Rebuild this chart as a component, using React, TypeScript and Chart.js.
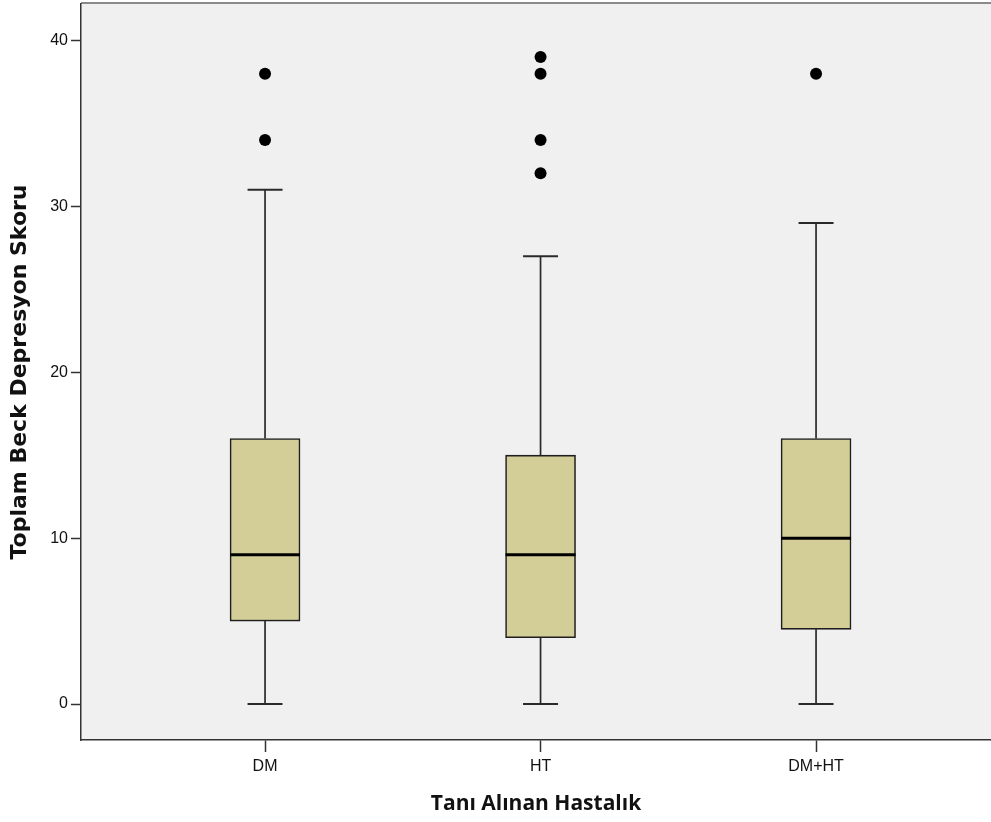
import React, { useEffect, useRef } from "react";
import { Chart, registerables } from "chart.js";

Chart.register(...registerables);

const categories = ["DM", "HT", "DM+HT"];
const whiskerLow = [0, 0, 0];
const q1 = [5, 4, 4.5];
const medians = [9, 9, 10];
const q3 = [16, 15, 16];
const whiskerHigh = [31, 27, 29];
const outliers = [[34, 38], [32, 34, 38, 39], [38]];
const yTicks = [0, 10, 20, 30, 40];

const FONT = "'Liberation Sans', Arial, sans-serif";
const BOX_HALF = 0.127;
const CAP_HALF = 0.0635;

const plotBg = {
  id: "plotBg",
  beforeDraw(chart: any) {
    const { ctx, chartArea } = chart;
    ctx.save();
    ctx.fillStyle = "#f0f0f0";
    ctx.fillRect(chartArea.left, chartArea.top, chartArea.right - chartArea.left, chartArea.bottom - chartArea.top);
    ctx.strokeStyle = "#8a8a8a";
    ctx.lineWidth = 2;
    ctx.beginPath();
    ctx.moveTo(chartArea.left, chartArea.top - 1);
    ctx.lineTo(chartArea.right, chartArea.top - 1);
    ctx.stroke();
    ctx.restore();
  },
};

const zeroPad = (s: any) => {
  s.paddingTop = 0;
  s.paddingBottom = 0;
  s.paddingLeft = 0;
  s.paddingRight = 0;
};

export default function App() {
  const ref = useRef<HTMLCanvasElement | null>(null);
  useEffect(() => {
    if (!ref.current) return;
    const pos = categories.map((_, i) => i + 1);
    const boxData = pos.map((x, i) => ({ x, y: [q1[i], q3[i]] }));
    const medianData: any[] = [];
    const whiskerData: any[] = [];
    const capData: any[] = [];
    pos.forEach((x, i) => {
      medianData.push({ x: x - BOX_HALF, y: medians[i] }, { x: x + BOX_HALF, y: medians[i] }, { x: x + 0.5, y: null });
      whiskerData.push({ x, y: q3[i] }, { x, y: whiskerHigh[i] }, { x: x + 0.01, y: null });
      whiskerData.push({ x, y: whiskerLow[i] }, { x, y: q1[i] }, { x: x + 0.01, y: null });
      capData.push({ x: x - CAP_HALF, y: whiskerHigh[i] }, { x: x + CAP_HALF, y: whiskerHigh[i] }, { x: x + 0.5, y: null });
      capData.push({ x: x - CAP_HALF, y: whiskerLow[i] }, { x: x + CAP_HALF, y: whiskerLow[i] }, { x: x + 0.5, y: null });
    });
    const outlierData: any[] = [];
    outliers.forEach((arr, i) => arr.forEach((v) => outlierData.push({ x: pos[i], y: v })));

    const chart = new Chart(ref.current, {
      type: "bar",
      data: {
        datasets: [
          {
            type: "line",
            data: whiskerData,
            borderColor: "#2a2a2a",
            borderWidth: 1.7,
            pointRadius: 0,
            spanGaps: false,
            clip: false,
            order: 3,
          } as any,
          {
            type: "line",
            data: capData,
            borderColor: "#2a2a2a",
            borderWidth: 2,
            pointRadius: 0,
            spanGaps: false,
            order: 3,
          } as any,
          {
            type: "bar",
            data: boxData,
            backgroundColor: "#d3ce97",
            borderColor: "#1e1e1e",
            borderWidth: 1.6,
            borderSkipped: false,
            barThickness: 70,
            order: 2,
          } as any,
          {
            type: "line",
            data: medianData,
            borderColor: "#000000",
            borderWidth: 3,
            pointRadius: 0,
            spanGaps: false,
            order: 1,
          } as any,
          {
            type: "line",
            data: outlierData,
            showLine: false,
            pointRadius: 6,
            pointBackgroundColor: "#000000",
            pointBorderColor: "#000000",
            pointBorderWidth: 0,
            order: 0,
          } as any,
        ],
      },
      options: {
        animation: false,
        responsive: false,
        events: [],
        layout: { autoPadding: false, padding: { top: 4, right: 0, left: 0, bottom: 0 } },
        plugins: { legend: { display: false }, tooltip: { enabled: false } },
        scales: {
          x: {
            type: "linear",
            min: 0.332,
            max: 3.635,
            offset: false,
            afterFit: (s: any) => {
              s.height = 82;
              zeroPad(s);
            },
            afterBuildTicks: (s: any) => {
              s.ticks = pos.map((v) => ({ value: v }));
            },
            ticks: {
              callback: (v: any) => categories[Math.round(Number(v)) - 1] ?? "",
              color: "#111111",
              font: { family: FONT, size: 16 },
              padding: 5,
              maxRotation: 0,
              autoSkip: false,
            },
            grid: { offset: false, drawOnChartArea: false, tickLength: 12, tickColor: "#333333", tickWidth: 1.5 },
            border: { display: true, color: "#333333", width: 1.5 },
            title: {
              display: true,
              text: "Tanı Alınan Hastalık",
              color: "#111111",
              font: { family: "'Open Sans', 'Noto Sans', sans-serif", size: 21, weight: "bold" },
              padding: { top: 0, bottom: 5 },
            },
          },
          y: {
            type: "linear",
            min: -2.17,
            max: 42.2,
            afterFit: (s: any) => {
              s.width = 81;
              zeroPad(s);
            },
            afterBuildTicks: (s: any) => {
              s.ticks = yTicks.map((v) => ({ value: v }));
            },
            ticks: {
              color: "#111111",
              font: { family: FONT, size: 16 },
              padding: 3,
            },
            grid: { drawOnChartArea: false, tickLength: 10, tickColor: "#333333", tickWidth: 1.5 },
            border: { display: true, color: "#333333", width: 1.5 },
            title: {
              display: true,
              text: "Toplam Beck Depresyon Skoru",
              color: "#111111",
              font: { family: "'DejaVu Sans', sans-serif", size: 22, weight: "bold" },
              padding: { top: 7, bottom: 0 },
            },
          },
        },
      },
      plugins: [plotBg],
    });
    return () => chart.destroy();
  }, []);
  return (
    <div style={{ position: "absolute", left: 0, top: 0, width: 991, height: 822, background: "#ffffff" }}>
      <canvas ref={ref} width={991} height={822} style={{ display: "block" }} />
    </div>
  );
}
